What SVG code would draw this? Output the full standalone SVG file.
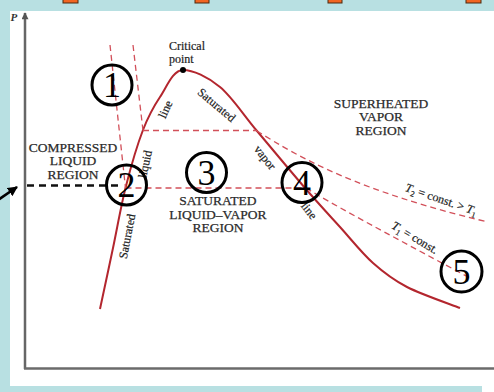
<svg xmlns="http://www.w3.org/2000/svg" width="494" height="392" viewBox="0 0 494 392">
<defs>
<style>
.reg{font-family:"Liberation Serif","Times New Roman",serif;font-size:13.5px;fill:#2b2b2b;stroke:#2b2b2b;stroke-width:0.25;text-anchor:middle}
.lab{font-family:"Liberation Serif","Times New Roman",serif;font-size:12px;fill:#222;stroke:#222;stroke-width:0.2}
.num circle{fill:none;stroke:#000;stroke-width:3}
.num text{font-family:"Liberation Serif","Times New Roman",serif;font-size:36px;fill:#000;text-anchor:middle}
.iso{fill:none;stroke:#d2505a;stroke-width:1.3;stroke-dasharray:6 4}
.sq{fill:#f26522;stroke:#4a2a10;stroke-width:1}
</style>
<marker id="ah" viewBox="0 0 10 10" refX="9" refY="5" markerWidth="10" markerHeight="10" markerUnits="userSpaceOnUse" orient="auto">
<path d="M0,0 L10,5 L0,10 z" fill="#000"/>
</marker>
<marker id="axh" viewBox="0 0 10 10" refX="9" refY="5" markerWidth="8" markerHeight="7" markerUnits="userSpaceOnUse" orient="auto">
<path d="M0,0 L10,5 L0,10 z" fill="#555"/>
</marker>
</defs>
<rect x="0" y="0" width="494" height="392" fill="#b8e0e2"/>
<rect x="10" y="11" width="484" height="375" fill="#fff"/>
<rect x="482" y="385" width="12" height="7" fill="#fff"/>
<g id="tabs">
<rect class="sq" x="63" y="-12" width="15" height="15"/>
<rect class="sq" x="195" y="-12" width="14" height="15"/>
<rect class="sq" x="328" y="-12" width="14" height="15"/>
<rect class="sq" x="466" y="-12" width="15" height="15"/>
</g>
<g id="axes">
<line x1="25" y1="369" x2="25" y2="13" stroke="#666" stroke-width="2.5" marker-end="url(#axh)"/>
<line x1="24" y1="368.5" x2="494" y2="368.5" stroke="#6b6b6b" stroke-width="2.5"/>
<text x="10.5" y="21" font-family="Liberation Serif,serif" font-size="11" font-style="italic" font-weight="bold" fill="#333">P</text>
</g>
<g id="connectors">
<path id="dome" d="M100,309 C102.2,298.8 108.7,268.5 113,248 C117.3,227.5 121,205.7 126,186 C131,166.3 137.3,144.8 143,130 C148.7,115.2 153.3,107 160,97 C166.7,87 173,70 183,70 C193,70 207.7,76.8 220,87 C232.3,97.2 242.8,114.2 257,131 C271.2,147.8 291.2,172 305,188 C318.8,204 328.7,214.5 340,227 C351.3,239.5 361.8,253 373,263 C384.2,273 392.5,279.5 407,287 C421.5,294.5 451.2,304.5 460,308" fill="none" stroke="#b3262e" stroke-width="2"/>
<line class="iso" x1="110" y1="45" x2="125.5" y2="188"/>
<line class="iso" x1="133" y1="45" x2="143" y2="130.5"/>
<line class="iso" x1="143" y1="130.5" x2="257" y2="130.5"/>
<line class="iso" x1="125.5" y1="188" x2="306" y2="188"/>
<path class="iso" d="M257,131 C300,158 360,192 488,222"/>
<path class="iso" d="M306,188 C325,200 380,230 470,278"/>
<line x1="27" y1="185.5" x2="123" y2="185.5" stroke="#111" stroke-width="2.5" stroke-dasharray="7 5"/>
<line x1="-2" y1="200" x2="17" y2="187" stroke="#000" stroke-width="2.5" marker-end="url(#ah)"/>
</g>
<g id="critical-point">
<circle cx="183" cy="70" r="3" fill="#000"/>
<text class="lab" x="169" y="50" font-size="13">Critical</text>
<text class="lab" x="169" y="63" font-size="13">point</text>
</g>
<g id="line-labels">
<text class="lab" text-anchor="middle" transform="translate(169,111) rotate(-65)">line</text>
<text class="lab" text-anchor="middle" transform="translate(149,165) rotate(-78)">liquid</text>
<text class="lab" text-anchor="middle" transform="translate(131,237) rotate(-79)">Saturated</text>
<text class="lab" text-anchor="middle" transform="translate(214,108) rotate(40)">Saturated</text>
<text class="lab" text-anchor="middle" transform="translate(262,160) rotate(52)">vapor</text>
<text class="lab" text-anchor="middle" transform="translate(306,213) rotate(52)">line</text>
</g>
<g id="isotherm-labels">
<text class="lab" text-anchor="middle" transform="translate(440,203) rotate(19)"><tspan font-style="italic">T</tspan><tspan font-size="8" dy="3">2</tspan><tspan dy="-3"> = const. &gt; </tspan><tspan font-style="italic">T</tspan><tspan font-size="8" dy="3">1</tspan></text>
<text class="lab" text-anchor="middle" transform="translate(413,241) rotate(31)"><tspan font-style="italic">T</tspan><tspan font-size="8" dy="3">1</tspan><tspan dy="-3"> = const.</tspan></text>
</g>
<g id="compressed-region">
<text class="reg" x="73" y="151.5">COMPRESSED</text>
<text class="reg" x="73" y="165">LIQUID</text>
<text class="reg" x="73" y="178.5">REGION</text>
</g>
<g id="saturated-region">
<text class="reg" x="218" y="205">SATURATED</text>
<text class="reg" x="218" y="218.5">LIQUID–VAPOR</text>
<text class="reg" x="218" y="232">REGION</text>
</g>
<g id="superheated-region">
<text class="reg" x="381" y="107.5">SUPERHEATED</text>
<text class="reg" x="381" y="121">VAPOR</text>
<text class="reg" x="381" y="134.5">REGION</text>
</g>
<g id="state1" class="num"><circle cx="112" cy="85" r="20"/><text x="112" y="97">1</text></g>
<g id="state2" class="num"><circle cx="126.5" cy="185" r="20"/><text x="126.5" y="197">2</text></g>
<g id="state3" class="num"><circle cx="206.5" cy="172.5" r="20"/><text x="206.5" y="184.5">3</text></g>
<g id="state4" class="num"><circle cx="302" cy="182.5" r="20"/><text x="302" y="194.5">4</text></g>
<g id="state5" class="num"><circle cx="461.5" cy="271.5" r="20.5"/><text x="461.5" y="283.5">5</text></g>
</svg>
